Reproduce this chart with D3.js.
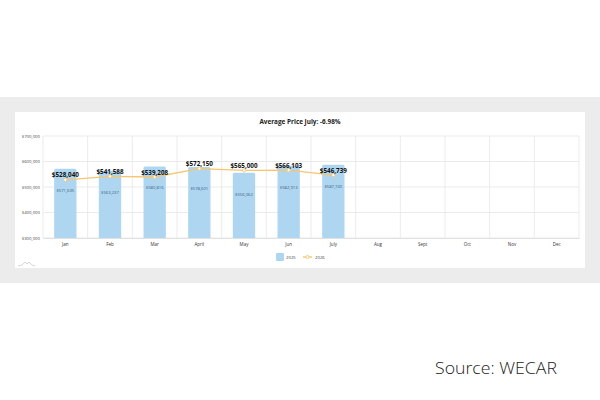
<!DOCTYPE html>
<html>
<head>
<meta charset="utf-8">
<script src="https://cdn.jsdelivr.net/npm/d3@7"></script>
<style>
  body { margin: 0; background: #fff; }
  svg { display: block; }
</style>
</head>
<body>
<div id="chart"></div>
<script>
// Average price by month, 2025 bars vs 2026 line
var months = ["Jan", "Feb", "Mar", "April", "May", "Jun", "July", "Aug", "Sept", "Oct", "Nov", "Dec"];
var price2025 = [571635, 563237, 580816, 578601, 556062, 582913, 587740];
var price2026 = [528040, 541588, 539208, 572150, 565000, 566103, 546739];
var yTicks = [300000, 400000, 500000, 600000, 700000];
var title = "Average Price July: -6.98%";

var svgWidth = 600;
var svgHeight = 400;

var margin = { top: 136, right: 21, bottom: 162, left: 43 };
var chartWidth = svgWidth - margin.left - margin.right;
var chartHeight = svgHeight - margin.top - margin.bottom;

var svg = d3.select("#chart").append("svg")
  .attr("width", svgWidth)
  .attr("height", svgHeight);

// grey band and white card
svg.append("rect").attr("x", 0).attr("y", 97).attr("width", 600).attr("height", 186).attr("fill", "#ececec");
svg.append("rect").attr("x", 15).attr("y", 112).attr("width", 570).attr("height", 156).attr("fill", "#ffffff");

svg.append("text")
  .attr("x", 300).attr("y", 123.5)
  .attr("text-anchor", "middle")
  .attr("font-family", "Open Sans, sans-serif")
  .attr("font-weight", "bold")
  .attr("font-size", 6.4)
  .attr("fill", "#222")
  .text(title);

var chartGroup = svg.append("g")
  .attr("transform", `translate(${margin.left}, ${margin.top})`);

var xScale = d3.scaleBand()
  .domain(months)
  .range([0, chartWidth]);

var yScale = d3.scaleLinear()
  .domain([300000, 700000])
  .range([chartHeight, 0]);

// horizontal grid
chartGroup.selectAll(".hgrid")
  .data(yTicks)
  .enter()
  .append("line")
  .attr("x1", 0).attr("x2", chartWidth)
  .attr("y1", d => yScale(d)).attr("y2", d => yScale(d))
  .attr("stroke", "#e6e6e6").attr("stroke-width", 0.8);

// vertical grid at band edges
var edges = months.map(m => xScale(m)).concat([chartWidth]);
chartGroup.selectAll(".vgrid")
  .data(edges)
  .enter()
  .append("line")
  .attr("x1", d => d).attr("x2", d => d)
  .attr("y1", 0).attr("y2", chartHeight)
  .attr("stroke", "#e6e6e6").attr("stroke-width", 0.8);

// y axis
var yAxis = d3.axisLeft(yScale)
  .tickValues(yTicks)
  .tickSize(0)
  .tickPadding(3)
  .tickFormat(d => "$" + d3.format(",")(d));
var yg = chartGroup.append("g").call(yAxis);
yg.select(".domain").remove();
yg.selectAll("text")
  .attr("font-family", "Open Sans, sans-serif")
  .attr("font-size", 4.3)
  .attr("fill", "#444");

// x axis
var xAxis = d3.axisBottom(xScale).tickSize(0).tickPadding(5);
var xg = chartGroup.append("g")
  .attr("transform", `translate(0, ${chartHeight})`)
  .call(xAxis);
xg.select(".domain").attr("stroke", "#dcdcdc").attr("stroke-width", 0.8);
xg.selectAll("text")
  .attr("font-family", "Open Sans, sans-serif")
  .attr("font-size", 4.5)
  .attr("fill", "#333");

// 2025 bars
var barW = xScale.bandwidth() * 0.5;
chartGroup.selectAll(".bar")
  .data(price2025)
  .enter()
  .append("path")
  .classed("bar", true)
  .attr("fill", "#aed6f1")
  .attr("d", (d, i) => {
    var x0 = xScale(months[i]) + (xScale.bandwidth() - barW) / 2;
    var y0 = yScale(d);
    var r = 1.5;
    return `M${x0},${chartHeight}V${y0 + r}Q${x0},${y0} ${x0 + r},${y0}H${x0 + barW - r}Q${x0 + barW},${y0} ${x0 + barW},${y0 + r}V${chartHeight}Z`;
  });

chartGroup.selectAll(".lab2025")
  .data(price2025)
  .enter()
  .append("text")
  .attr("x", (d, i) => xScale(months[i]) + xScale.bandwidth() / 2)
  .attr("y", d => yScale(d) + 23)
  .attr("text-anchor", "middle")
  .attr("font-family", "Open Sans, sans-serif")
  .attr("font-size", 4.2)
  .attr("fill", "#3d5f80")
  .text(d => "$" + d3.format(",")(d));

// 2026 line
var line = d3.line()
  .x((d, i) => xScale(months[i]) + xScale.bandwidth() / 2)
  .y(d => yScale(d));

chartGroup.append("path")
  .datum(price2026)
  .attr("d", line)
  .attr("fill", "none")
  .attr("stroke", "#f7c56e")
  .attr("stroke-width", 1.3);

chartGroup.selectAll(".pt")
  .data(price2026)
  .enter()
  .append("circle")
  .attr("cx", (d, i) => xScale(months[i]) + xScale.bandwidth() / 2)
  .attr("cy", d => yScale(d))
  .attr("r", 1.6)
  .attr("fill", "#fff")
  .attr("stroke", "#f7c56e")
  .attr("stroke-width", 0.9);

chartGroup.selectAll(".lab2026")
  .data(price2026)
  .enter()
  .append("text")
  .attr("x", (d, i) => xScale(months[i]) + xScale.bandwidth() / 2)
  .attr("y", d => yScale(d) - 2.5)
  .attr("text-anchor", "middle")
  .attr("font-family", "Open Sans, sans-serif")
  .attr("font-weight", "bold")
  .attr("font-size", 6.3)
  .attr("fill", "#111")
  .text(d => "$" + d3.format(",")(d));

// legend
var legend = svg.append("g").attr("transform", "translate(276, 253)");
legend.append("rect").attr("width", 8).attr("height", 8).attr("rx", 1).attr("fill", "#aed6f1");
legend.append("text").attr("x", 10).attr("y", 5.5)
  .attr("font-family", "Open Sans, sans-serif").attr("font-size", 4.3).attr("fill", "#444").text("2025");
legend.append("line").attr("x1", 27).attr("x2", 36).attr("y1", 4).attr("y2", 4)
  .attr("stroke", "#f7c56e").attr("stroke-width", 1.3);
legend.append("circle").attr("cx", 31.5).attr("cy", 4).attr("r", 1.6)
  .attr("fill", "#fff").attr("stroke", "#f7c56e").attr("stroke-width", 0.9);
legend.append("text").attr("x", 39).attr("y", 5.5)
  .attr("font-family", "Open Sans, sans-serif").attr("font-size", 4.3).attr("fill", "#444").text("2026");

// faint logo mark, bottom left of card
svg.append("path")
  .attr("d", "M18,266 L22,265 L25,262 L27,264 L29,262 L32,265 L35,266")
  .attr("fill", "none").attr("stroke", "#bbb").attr("stroke-width", 0.6);

// source note
svg.append("text")
  .attr("x", 435).attr("y", 374)
  .attr("font-family", "Open Sans, sans-serif")
  .attr("font-weight", 300)
  .attr("font-size", 15.5)
  .attr("textLength", 122)
  .attr("lengthAdjust", "spacingAndGlyphs")
  .attr("fill", "#222")
  .text("Source: WECAR");
</script>
</body>
</html>
